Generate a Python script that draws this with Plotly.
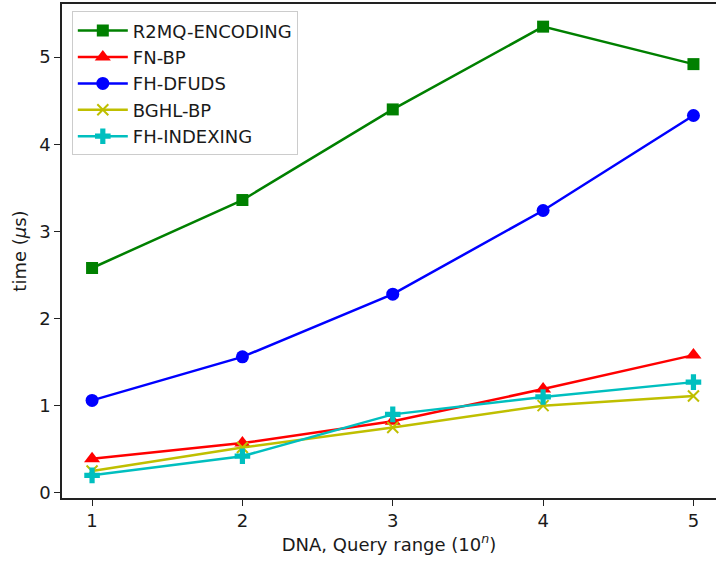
import plotly.graph_objects as go

# Query range exponent n (range = 10^n)
query_exp = [1, 2, 3, 4, 5]

# Mean query time in microseconds for each method
r2mq_encoding = [2.58, 3.36, 4.40, 5.35, 4.92]
fn_bp = [0.39, 0.57, 0.82, 1.19, 1.58]
fh_dfuds = [1.06, 1.56, 2.28, 3.24, 4.33]
bghl_bp = [0.25, 0.52, 0.75, 1.00, 1.11]
fh_indexing = [0.20, 0.42, 0.90, 1.10, 1.27]

series = [
    ("R2MQ-ENCODING", r2mq_encoding, "#008000", "square", 12),
    ("FN-BP", fn_bp, "#ff0000", "triangle-up", 14),
    ("FH-DFUDS", fh_dfuds, "#0000ff", "circle", 13),
    ("BGHL-BP", bghl_bp, "#bfbf00", "x-thin", 11),
    ("FH-INDEXING", fh_indexing, "#00bfbf", "cross", 13),
]

fig = go.Figure()
for name, ys, color, symbol, size in series:
    fig.add_trace(go.Scatter(
        x=query_exp, y=ys, name=name, mode="lines+markers",
        line=dict(color=color, width=2.5),
        marker=dict(symbol=symbol, size=size, color=color,
                    line=dict(color=color, width=2 if symbol == "x-thin" else 0)),
    ))

font = "DejaVu Sans, sans-serif"
fig.update_layout(
    width=716, height=562,
    margin=dict(l=62, r=0, t=4, b=64),
    plot_bgcolor="white", paper_bgcolor="white",
    font=dict(family=font, size=18, color="#1a1a1a"),
    showlegend=True,
    legend=dict(
        x=0.015, y=0.985, xanchor="left", yanchor="top",
        bgcolor="rgba(255,255,255,0.8)", bordercolor="#cccccc", borderwidth=1,
        font=dict(family=font, size=18, color="#1a1a1a"),
        tracegroupgap=0, itemwidth=50,
    ),
    xaxis=dict(
        range=[0.8, 5.15], tickvals=query_exp, ticktext=[str(v) for v in query_exp],
        showgrid=False, zeroline=False, showline=True, linecolor="#222", linewidth=1.5,
        mirror=True, ticks="outside", ticklen=6, tickcolor="#222",
        title=dict(text="DNA, Query range (10<sup><i>n</i></sup>)", standoff=6,
                   font=dict(family=font, size=18)),
    ),
    yaxis=dict(
        range=[-0.06, 5.61], tickvals=[0, 1, 2, 3, 4, 5],
        showgrid=False, zeroline=False, showline=True, linecolor="#222", linewidth=1.5,
        mirror=False, ticks="outside", ticklen=6, tickcolor="#222",
        title=dict(text="time (<i>μ</i>s)", standoff=8, font=dict(family=font, size=18)),
    ),
)

fig.write_html("out.html")
